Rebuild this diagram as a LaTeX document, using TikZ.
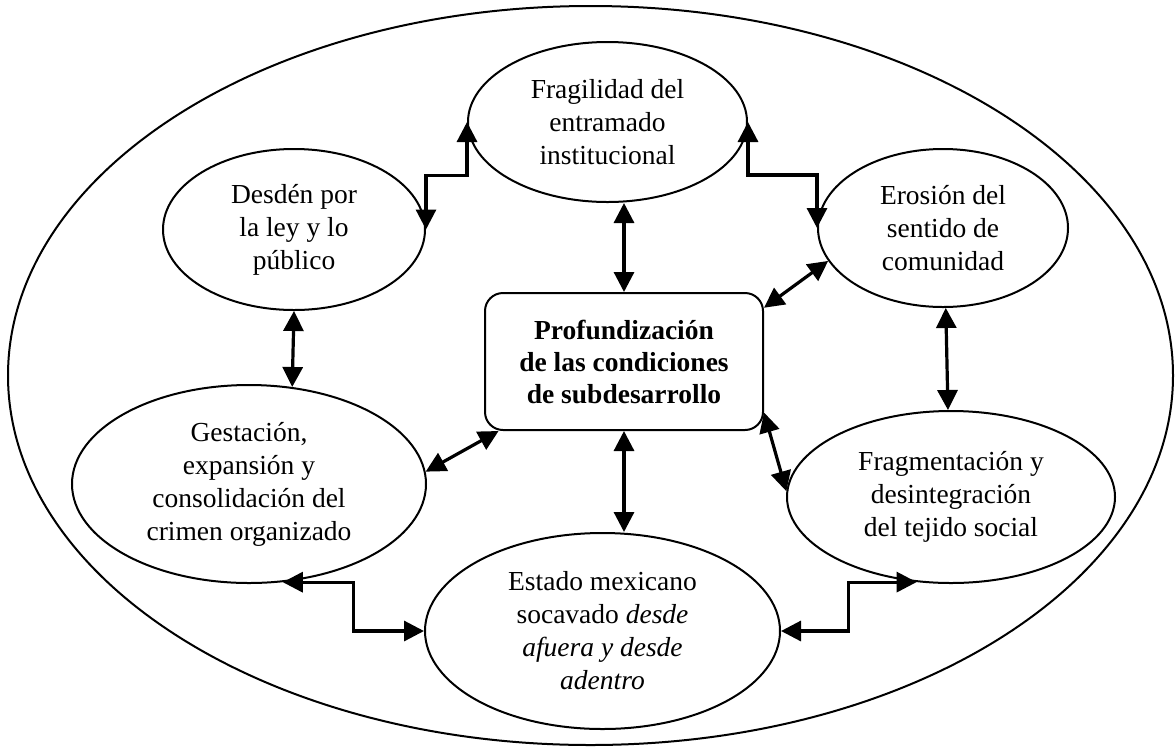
\documentclass[tikz,border=0pt]{standalone}
\usepackage{fontspec}
\setmainfont{Liberation Serif}
\usetikzlibrary{arrows.meta,calc,shapes.geometric}
\begin{document}
\begin{tikzpicture}[x=1pt,y=-1pt,
  ell/.style={draw, ellipse, line width=2pt, inner sep=0pt, align=center,
    font=\fontsize{27.5}{33}\selectfont},
  hubbox/.style={draw, rectangle, rounded corners=18pt, line width=2pt, inner sep=0pt,
    align=center, font=\fontsize{27.5}{32}\selectfont\bfseries},
  dbl/.style={line width=3.2pt, line join=miter,
    {Triangle[length=20pt,width=20pt]}-{Triangle[length=20pt,width=20pt]}}]
\useasboundingbox (0,0) rectangle (1175,748);

\node[draw, ellipse, line width=2pt, inner sep=0pt, minimum width=1165pt, minimum height=739pt] (outer) at (590.5,375.5) {};

\node[ell, minimum width=279pt, minimum height=160pt] (fragil) at (607.5,122) {Fragilidad del\\entramado\\institucional};
\node[ell, minimum width=262pt, minimum height=161pt] (desden) at (294,229.5) {Desdén por\\la ley y lo\\público};
\node[ell, minimum width=250pt, minimum height=158pt] (erosion) at (943,228) {Erosión del\\sentido de\\comunidad};
\node[hubbox, minimum width=278pt, minimum height=137pt] (hub) at (624,361.5) {Profundización\\de las condiciones\\de subdesarrollo};
\node[ell, minimum width=354pt, minimum height=198pt] (gest) at (249,484) {Gestación,\\expansión y\\consolidación del\\crimen organizado};
\node[ell, minimum width=328pt, minimum height=172pt] (fragm) at (951,497) {Fragmentación y\\desintegración\\del tejido social};
\node[ell, minimum width=355pt, minimum height=196pt] (estado) at (602.5,631) {Estado mexicano\\socavado \textit{desde}\\\textit{afuera y desde}\\\textit{adentro}};

\draw[dbl] (desden.east) |- ($(desden.east)!.5!(fragil.west)$) -| (fragil.west);
\draw[dbl] (fragil.east) |- ($(fragil.east)!.5!(erosion.west)$) -| (erosion.west);
\draw[dbl] (gest.-71) -| ($(gest.-71)!.5!(estado.west)$) |- (estado.west);
\draw[dbl] (estado.east) -| ($(estado.east)!.5!(fragm.-112)$) |- (fragm.-112);

\draw[dbl] (fragil.south -| hub.north) -- (hub.north);
\draw[dbl] (hub.south) -- (hub.south |- estado.north);
\draw[dbl] (erosion.-164) -- (hub.21);
\draw[dbl] (gest.4) -- (hub.-151);
\draw[dbl] (hub.-20) -- (fragm.178);
\draw[dbl] (desden.south) -- (gest.66);
\draw[dbl] (erosion.-88) -- (fragm.92);
\end{tikzpicture}
\end{document}
